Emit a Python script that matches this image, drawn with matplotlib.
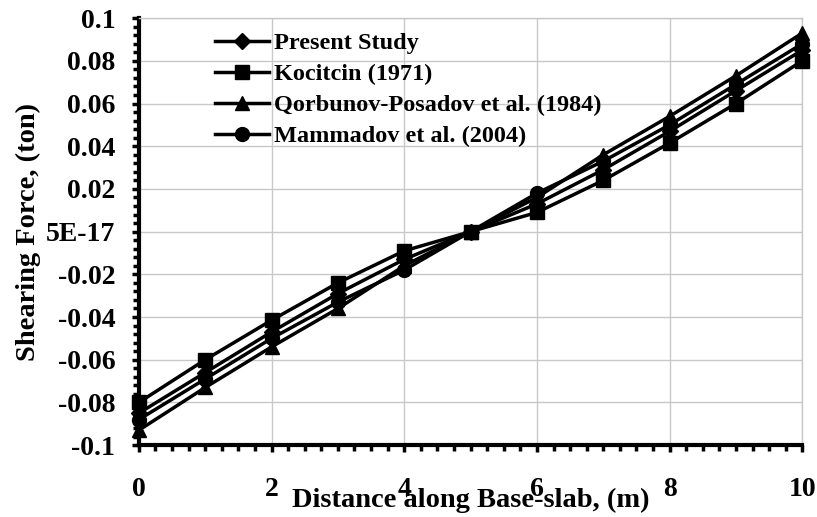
import matplotlib
matplotlib.use("Agg")
import matplotlib.pyplot as plt
import numpy as np
from matplotlib.ticker import MultipleLocator, FuncFormatter

# distance along base slab (m)
distance = [0, 1, 2, 3, 4, 5, 6, 7, 8, 9, 10]

# shearing force (ton)
present_study = [-0.085, -0.066, -0.047, -0.029, -0.013, 0.0, 0.013, 0.029, 0.047, 0.066, 0.085]
kocitcin = [-0.080, -0.060, -0.0415, -0.024, -0.009, 0.0, 0.009, 0.024, 0.0415, 0.060, 0.080]
qorbunov = [-0.093, -0.073, -0.054, -0.036, -0.016, 0.0, 0.016, 0.036, 0.054, 0.073, 0.093]
mammadov = [-0.088, -0.069, -0.050, -0.033, -0.018, 0.0, 0.018, 0.033, 0.050, 0.069, 0.088]

labels = ['Present Study', 'Kocitcin (1971)',
          'Qorbunov-Posadov et al. (1984)', 'Mammadov et al. (2004)']
markers = ['D', 's', '^', 'o']
msizes = [8, 10, 10, 10]

plt.rcParams['font.family'] = 'Liberation Serif'
plt.rcParams['font.weight'] = 'bold'

fig = plt.figure(figsize=(8.17, 5.17), dpi=100)
ax = fig.add_axes([0.170, 0.139, 0.812, 0.826])

for series, lab, mk, ms in zip([present_study, kocitcin, qorbunov, mammadov], labels, markers, msizes):
    ax.plot(distance, series, color='black', lw=2.5, marker=mk, markersize=ms,
            label=lab, clip_on=False, zorder=3)

ax.set_xlim(0, 10)
ax.set_ylim(-0.1, 0.1)
ax.xaxis.set_major_locator(MultipleLocator(2))
ax.xaxis.set_minor_locator(MultipleLocator(0.25))
ax.yaxis.set_major_locator(MultipleLocator(0.02))
ax.yaxis.set_minor_locator(MultipleLocator(0.004))


def yfmt(v, pos):
    if abs(v) < 1e-9:
        return '5E-17'
    if abs(abs(v) - 0.1) < 1e-9:
        return '%.1f' % v
    return '%.2f' % v


ax.yaxis.set_major_formatter(FuncFormatter(yfmt))

ax.grid(True, which='major', color='#c8c8c8', lw=1)
ax.set_axisbelow(True)
for s in ['top', 'right']:
    ax.spines[s].set_color('#c8c8c8')
    ax.spines[s].set_linewidth(1)
for s in ['left', 'bottom']:
    ax.spines[s].set_color('black')
    ax.spines[s].set_linewidth(3)

ax.tick_params(axis='both', which='major', direction='out', length=5, width=2.5, labelsize=20)
ax.tick_params(axis='both', which='minor', direction='out', length=4, width=2.5)
ax.tick_params(axis='x', which='major', pad=18)
ax.tick_params(axis='y', which='major', pad=12)

ax.set_xlabel('Distance along Base-slab, (m)', fontsize=20.5, fontweight='bold')
ax.xaxis.set_label_coords(0.5, -0.13)
ax.xaxis.label.set_va('center')
ax.set_ylabel('Shearing Force, (ton)', fontsize=20.5, fontweight='bold')
ax.yaxis.set_label_coords(-0.167, 0.5)
ax.yaxis.label.set_va('center')

ax.legend(loc='upper left', bbox_to_anchor=(0.115, 0.967), frameon=False, fontsize=17.5,
          handlelength=2.2, handletextpad=0.2, labelspacing=0.37, borderaxespad=0,
          borderpad=0)

fig.savefig('out.png', dpi=100)
